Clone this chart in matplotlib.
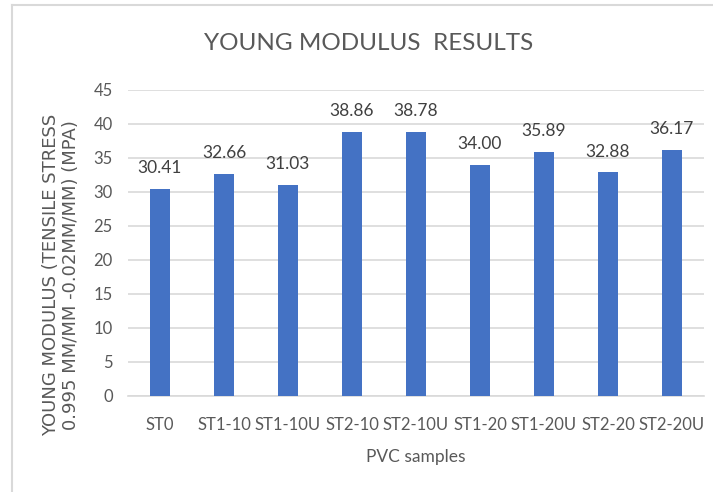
import matplotlib
matplotlib.use("Agg")
import matplotlib.pyplot as plt
from matplotlib.lines import Line2D

categories = ["ST0", "ST1-10", "ST1-10U", "ST2-10", "ST2-10U", "ST1-20", "ST1-20U", "ST2-20", "ST2-20U"]
values = [30.41, 32.66, 31.03, 38.86, 38.78, 34.00, 35.89, 32.88, 36.17]
yticks = [0, 5, 10, 15, 20, 25, 30, 35, 40, 45]

plt.rcParams['font.family'] = ['Lato', 'DejaVu Sans']
txt = '#595959'

W, H = 713, 492
fig = plt.figure(figsize=(W / 100, H / 100), dpi=100)
ax = fig.add_axes([128 / W, 1 - 396 / H, 576 / W, 306 / H])
x = list(range(len(categories)))
ax.bar(x, values, width=0.32, color='#4472C4', zorder=3)
for xi, v in zip(x, values):
    ax.annotate(f"{v:.2f}", (xi, v), xytext=(0, 15), textcoords='offset points',
                ha='center', va='center', fontsize=12.5, color='#404040')

ax.set_ylim(0, 45)
ax.set_xlim(-0.5, len(categories) - 0.5)
ax.set_yticks(yticks)
ax.set_yticklabels([str(t) for t in yticks])
ax.set_xticks(x)
ax.set_xticklabels(categories)
ax.grid(axis='y', color='#d9d9d9', linewidth=1.2, zorder=0)
ax.tick_params(axis='both', length=0, labelsize=12, colors=txt)
ax.tick_params(axis='x', pad=15)
ax.tick_params(axis='y', pad=11)
for s in ['top', 'right', 'left']:
    ax.spines[s].set_visible(False)
ax.spines['bottom'].set_color('#d9d9d9')
ax.spines['bottom'].set_linewidth(1.2)

fig.text(369 / W, 1 - 44 / H, "YOUNG MODULUS  RESULTS", fontsize=17.5, color=txt,
         ha='center', va='center')

ax.set_xlabel("PVC samples", fontsize=12.5, color=txt)
ax.xaxis.set_label_coords(0.5, -(457 - 396) / 306)
ax.xaxis.label.set_va('center')

ax.set_ylabel("YOUNG MODULUS (TENSILE STRESS\n0.995 MM/MM -0.02MM/MM) (MPA)", fontsize=13,
              color=txt, family=['DejaVu Sans'], linespacing=1.15)
ax.yaxis.set_label_coords((61 - 128) / 576, (396 - 275) / 306)
ax.yaxis.label.set_va('center')

fig.add_artist(Line2D([12 / W, 12 / W], [0, 1 - 5 / H], color='#d9d9d9', lw=1.5, transform=fig.transFigure))
fig.add_artist(Line2D([12 / W, 1], [1 - 5 / H, 1 - 5 / H], color='#d9d9d9', lw=1.5, transform=fig.transFigure))

fig.savefig("out.png", dpi=100)
